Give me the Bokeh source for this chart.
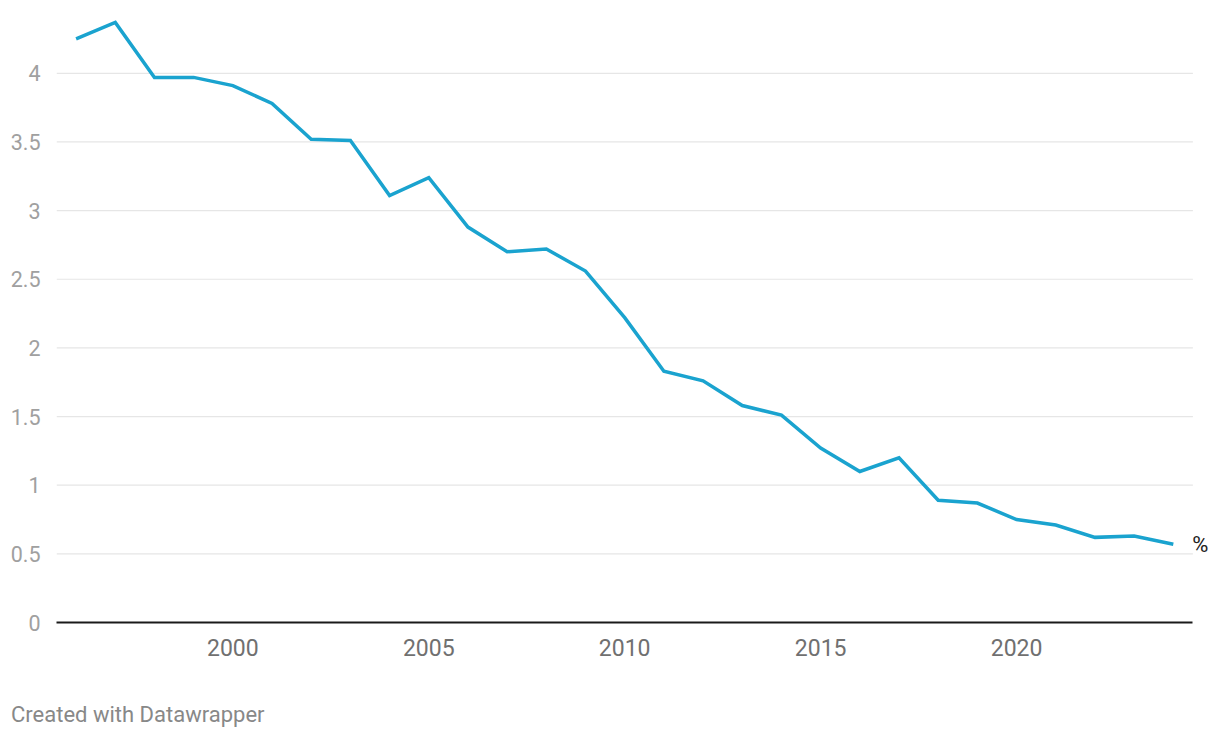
from bokeh.plotting import figure
from bokeh.models import Range1d, FixedTicker, Label, Div
from bokeh.layouts import column
from bokeh.embed import file_html
from bokeh.resources import INLINE

years = list(range(1996, 2025))
values = [4.25, 4.37, 3.97, 3.97, 3.91, 3.78, 3.52, 3.51, 3.11, 3.24,
          2.88, 2.70, 2.72, 2.56, 2.22, 1.83, 1.76, 1.58, 1.51, 1.27,
          1.10, 1.20, 0.89, 0.87, 0.75, 0.71, 0.62, 0.63, 0.57]
x_ticks = [2000, 2005, 2010, 2015, 2020]
y_ticks = [0, 0.5, 1, 1.5, 2, 2.5, 3, 3.5, 4]
unit_label = "%"
credit = "Created with Datawrapper"

FONT = "Roboto"
X_START, X_END, X_FRAME_END = 1995.5, 2024.5, 2025.0

p = figure(width=1212, height=662, output_backend="svg", toolbar_location=None,
           x_range=Range1d(X_START, X_FRAME_END), y_range=Range1d(0, 4.45),
           min_border_left=56, min_border_right=0, min_border_top=11, min_border_bottom=40)
p.outline_line_color = None
p.background_fill_color = "white"
p.border_fill_color = "white"

# horizontal gridlines (stop at the end of the data area)
grid_vals = [t for t in y_ticks if t > 0]
p.segment(x0=[X_START] * len(grid_vals), x1=[X_END] * len(grid_vals),
          y0=grid_vals, y1=grid_vals, line_color="#e6e6e6", line_width=1.2)

p.line(years, values, line_color="#1aa3cf", line_width=3.5, line_join="miter")

# axes
p.xaxis.ticker = FixedTicker(ticks=x_ticks)
p.xaxis.bounds = (X_START, X_END)
p.xaxis.axis_line_color = "#1a1a1a"
p.xaxis.axis_line_width = 2
p.xaxis.major_tick_line_color = None
p.xaxis.minor_tick_line_color = None
p.xaxis.major_label_text_font = FONT
p.xaxis.major_label_text_font_size = "23px"
p.xaxis.major_label_text_color = "#707070"
p.xaxis.major_label_standoff = 10

p.yaxis.ticker = FixedTicker(ticks=y_ticks)
p.yaxis.axis_line_color = None
p.yaxis.major_tick_line_color = None
p.yaxis.minor_tick_line_color = None
p.yaxis.major_label_text_font = FONT
p.yaxis.major_label_text_font_size = "21.5px"
p.yaxis.major_label_text_color = "#a0a0a0"
p.yaxis.major_label_standoff = 10
p.yaxis.major_label_overrides = {0: "0", 0.5: "0.5", 1: "1", 1.5: "1.5", 2: "2",
                                 2.5: "2.5", 3: "3", 3.5: "3.5", 4: "4"}

p.xgrid.grid_line_color = None
p.ygrid.grid_line_color = None

p.add_layout(Label(x=years[-1], y=values[-1], text=unit_label, x_offset=19,
                   text_baseline="middle", text_align="left", text_font=FONT,
                   text_font_size="22px", text_color="#222222"))

footer = Div(text=credit, width=600, height=27, margin=(39, 0, 0, 11),
             styles={"font-family": FONT, "font-size": "22px", "color": "#888888",
                     "line-height": "27px", "white-space": "nowrap"})

layout = column(p, footer, spacing=0)
open("out.html", "w").write(file_html(layout, INLINE))
